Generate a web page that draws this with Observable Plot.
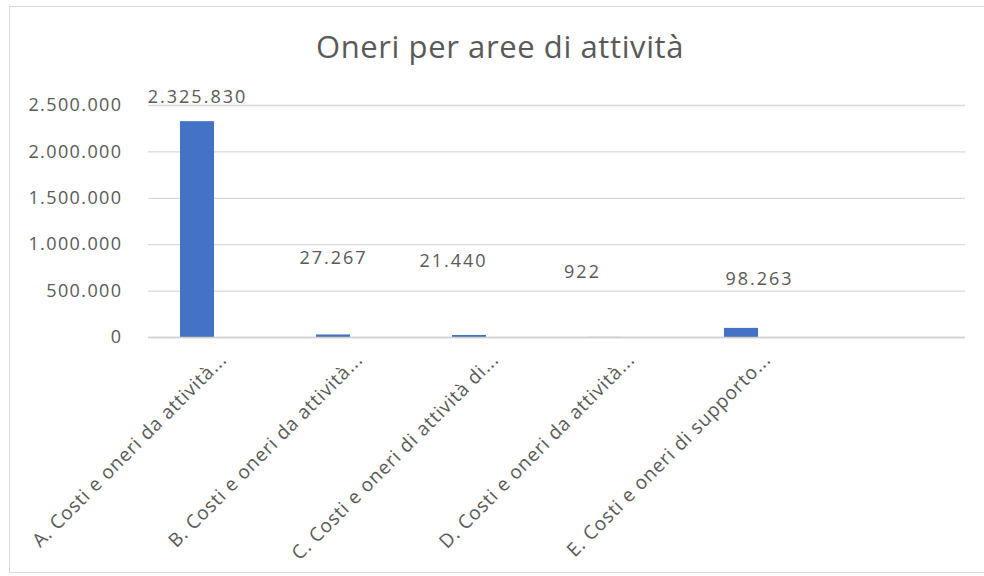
<!DOCTYPE html>
<html>
<head>
<meta charset="utf-8">
<script src="https://cdn.jsdelivr.net/npm/d3@7"></script>
<script src="https://cdn.jsdelivr.net/npm/@observablehq/plot@0.6"></script>
<style>
  html, body { margin: 0; padding: 0; background: #fff; }
  #frame { position: relative; width: 984px; height: 576px; overflow: hidden; font-family: "Open Sans", Lato, sans-serif; color: #595959; }
  #title { position: absolute; left: 0; top: 0; width: 1000px; height: 70px; box-sizing: border-box; padding-top: 26px; line-height: 40px; font-size: 31px; text-align: center; letter-spacing: 0.6px; color: #595959; }
  #chart { position: absolute; left: 0; top: 70px; }
  #border { position: absolute; left: 9px; top: 6px; width: 1000px; height: 567px; box-sizing: border-box; border: 1px solid #d9d9d9; pointer-events: none; }
  #chart svg text { fill: #595959; }
  .ytick text { letter-spacing: 1.4px; }
  .xtick text { letter-spacing: 0.8px; }
  .dlabel text { letter-spacing: 2px; }
</style>
</head>
<body>
<div id="frame">
  <div id="title"></div>
  <div id="chart"></div>
  <div id="border"></div>
</div>
<script>
// ---- data ----
const chartTitle = "Oneri per aree di attività";
const categories = [
  "A. Costi e oneri da attività...",
  "B. Costi e oneri da attività...",
  "C. Costi e oneri di attività di...",
  "D. Costi e oneri da attività...",
  "E. Costi e oneri di supporto...",
  ""
];
const values = [2325830, 27267, 21440, 922, 98263, null];
const yTicks = [0, 500000, 1000000, 1500000, 2000000, 2500000];

// ---- layout of the (hand-placed) data labels, in pixels ----
const labelDx = [0, 0, -16, -23, 18];
const labelDy = [-24, -77, -74, -65, -49];

const itLocale = d3.formatLocale({decimal: ",", thousands: ".", grouping: [3], currency: ["€", ""]});
const fmt = itLocale.format(",d");

const rows = categories.map((c, i) => ({cat: c, value: values[i]}));
const labelled = rows.filter(r => r.value != null);

document.getElementById("title").textContent = chartTitle;

const labelMarks = labelled.map((r, i) =>
  Plot.text([r], {
    x: "cat", y: "value", text: d => fmt(d.value),
    dx: labelDx[i], dy: labelDy[i],
    fontSize: 18, fill: "#595959",
    className: "dlabel"
  })
);

const chart = Plot.plot({
  width: 984,
  height: 506,
  marginTop: 35,
  marginBottom: 239,
  marginLeft: 148,
  marginRight: 19,
  style: {fontFamily: "'Open Sans', Lato, sans-serif", fontSize: "18px", color: "#595959", background: "transparent"},
  x: {domain: categories, paddingInner: 0.75, paddingOuter: 0.375, align: 0.31, label: null},
  y: {domain: [0, 2500000], label: null},
  marks: [
    Plot.gridY(yTicks, {stroke: "#d9d9d9", strokeOpacity: 1, strokeWidth: 1.3}),
    Plot.axisY(yTicks, {tickSize: 0, tickPadding: 26, tickFormat: fmt, fontSize: 18, className: "ytick", label: null}),
    Plot.axisX({tickSize: 0, tickRotate: -45, tickPadding: 0, dx: 26, dy: 19, fontSize: 19, className: "xtick", label: null}),
    Plot.barY(rows.filter(r => r.value != null), {x: "cat", y: "value", fill: "#4472c4"}),
    Plot.ruleY([0], {stroke: "#d0d0d0", strokeWidth: 1.3}),
    ...labelMarks
  ]
});
document.getElementById("chart").appendChild(chart);
</script>
</body>
</html>
